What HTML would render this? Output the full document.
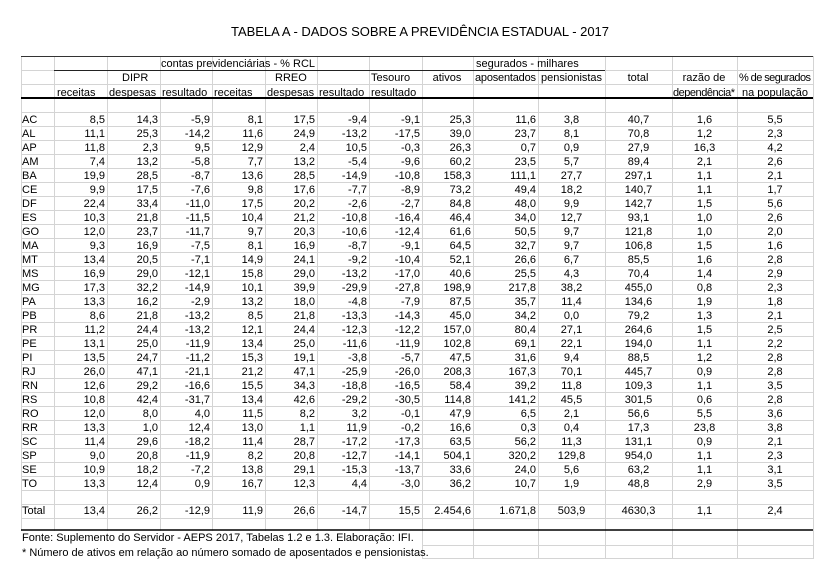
<!DOCTYPE html>
<html><head><meta charset="utf-8"><style>
html,body{margin:0;padding:0;background:#fff;}
svg{display:block;font-family:"Liberation Sans",Arial,sans-serif;}
</style></head><body>
<svg id="t" width="822" height="569" viewBox="0 0 822 569"></svg>
<script>
const states=["AC","AL","AP","AM","BA","CE","DF","ES","GO","MA","MT","MS","MG","PA","PB","PR","PE","PI","RJ","RN","RS","RO","RR","SC","SP","SE","TO"];
const dipr_rec=["8,5","11,1","11,8","7,4","19,9","9,9","22,4","10,3","12,0","9,3","13,4","16,9","17,3","13,3","8,6","11,2","13,1","13,5","26,0","12,6","10,8","12,0","13,3","11,4","9,0","10,9","13,3"];
const dipr_desp=["14,3","25,3","2,3","13,2","28,5","17,5","33,4","21,8","23,7","16,9","20,5","29,0","32,2","16,2","21,8","24,4","25,0","24,7","47,1","29,2","42,4","8,0","1,0","29,6","20,8","18,2","12,4"];
const dipr_res=["-5,9","-14,2","9,5","-5,8","-8,7","-7,6","-11,0","-11,5","-11,7","-7,5","-7,1","-12,1","-14,9","-2,9","-13,2","-13,2","-11,9","-11,2","-21,1","-16,6","-31,7","4,0","12,4","-18,2","-11,9","-7,2","0,9"];
const rreo_rec=["8,1","11,6","12,9","7,7","13,6","9,8","17,5","10,4","9,7","8,1","14,9","15,8","10,1","13,2","8,5","12,1","13,4","15,3","21,2","15,5","13,4","11,5","13,0","11,4","8,2","13,8","16,7"];
const rreo_desp=["17,5","24,9","2,4","13,2","28,5","17,6","20,2","21,2","20,3","16,9","24,1","29,0","39,9","18,0","21,8","24,4","25,0","19,1","47,1","34,3","42,6","8,2","1,1","28,7","20,8","29,1","12,3"];
const rreo_res=["-9,4","-13,2","10,5","-5,4","-14,9","-7,7","-2,6","-10,8","-10,6","-8,7","-9,2","-13,2","-29,9","-4,8","-13,3","-12,3","-11,6","-3,8","-25,9","-18,8","-29,2","3,2","11,9","-17,2","-12,7","-15,3","4,4"];
const tesouro=["-9,1","-17,5","-0,3","-9,6","-10,8","-8,9","-2,7","-16,4","-12,4","-9,1","-10,4","-17,0","-27,8","-7,9","-14,3","-12,2","-11,9","-5,7","-26,0","-16,5","-30,5","-0,1","-0,2","-17,3","-14,1","-13,7","-3,0"];
const ativos=["25,3","39,0","26,3","60,2","158,3","73,2","84,8","46,4","61,6","64,5","52,1","40,6","198,9","87,5","45,0","157,0","102,8","47,5","208,3","58,4","114,8","47,9","16,6","63,5","504,1","33,6","36,2"];
const aposentados=["11,6","23,7","0,7","23,5","111,1","49,4","48,0","34,0","50,5","32,7","26,6","25,5","217,8","35,7","34,2","80,4","69,1","31,6","167,3","39,2","141,2","6,5","0,3","56,2","320,2","24,0","10,7"];
const pensionistas=["3,8","8,1","0,9","5,7","27,7","18,2","9,9","12,7","9,7","9,7","6,7","4,3","38,2","11,4","0,0","27,1","22,1","9,4","70,1","11,8","45,5","2,1","0,4","11,3","129,8","5,6","1,9"];
const totals=["40,7","70,8","27,9","89,4","297,1","140,7","142,7","93,1","121,8","106,8","85,5","70,4","455,0","134,6","79,2","264,6","194,0","88,5","445,7","109,3","301,5","56,6","17,3","131,1","954,0","63,2","48,8"];
const razao=["1,6","1,2","16,3","2,1","1,1","1,1","1,5","1,0","1,0","1,5","1,6","1,4","0,8","1,9","1,3","1,5","1,1","1,2","0,9","1,1","0,6","5,5","23,8","0,9","1,1","1,1","2,9"];
const pctPop=["5,5","2,3","4,2","2,6","2,1","1,7","5,6","2,6","2,0","1,6","2,8","2,9","2,3","1,8","2,1","2,5","2,2","2,8","2,8","3,5","2,8","3,6","3,8","2,1","2,3","3,1","3,5"];
const totalRow=["Total","13,4","26,2","-12,9","11,9","26,6","-14,7","15,5","2.454,6","1.671,8","503,9","4630,3","1,1","2,4"];

const svg=document.getElementById('t');
const NS="http://www.w3.org/2000/svg";
const X=[21,54,107,160,212,265,317,369,422,473,538,605,672,737,813];
const align=["l","r","r","r","r","r","r","r","r","r","c","c","c","c"];
const FS=11;
function line(x1,y1,x2,y2,c,w){const l=document.createElementNS(NS,'line');l.setAttribute('x1',x1);l.setAttribute('y1',y1);l.setAttribute('x2',x2);l.setAttribute('y2',y2);l.setAttribute('stroke',c);l.setAttribute('stroke-width',w||1);


svg.appendChild(l);return l;}
function txt(s,x,y,anchor,size,name){const t=document.createElementNS(NS,'text');t.textContent=s;t.setAttribute('x',x);t.setAttribute('y',y);t.setAttribute('text-anchor',anchor||'start');t.setAttribute('font-size',size||FS);t.setAttribute('fill','#000');


svg.appendChild(t);return t;}
const G='#d4d4d4';
for(let y=70;y<=531;y+=14){if(y!==98)line(21,y+0.5,813,y+0.5,G);}
for(let i=0;i<X.length;i++){line(X[i]+0.5,56,X[i]+0.5,531,G);}
for(let i=8;i<X.length;i++){line(X[i]+0.5,531,X[i]+0.5,559,G);}
line(422,545.5,813,545.5,G);line(422,558.5,813,558.5,G);
line(21,56.5,813,56.5,'#333');
line(54,70.5,605,70.5,'#222');
line(21,98,813,98,'#000',2);
line(21,530,813,530,'#000',1.5);
const ti=txt("TABELA A - DADOS SOBRE A PREVIDÊNCIA ESTADUAL - 2017",420,36,'middle',13,'table-title');
ti.setAttribute('textLength',378);
txt("contas previdenciárias - % RCL",238,67,'middle',FS,'header-contas');
txt("segurados - milhares",476,67,'start',FS,'header-segurados');
txt("DIPR",122,81,'start',FS,'header-dipr');
txt("RREO",275,81,'start',FS,'header-rreo');
txt("Tesouro",371,81,'start',FS,'header-tesouro');
txt("ativos",447,81,'middle',FS,'header-ativos');
const ap=txt("aposentados",475,81,'start',FS,'header-aposentados');ap.setAttribute('textLength',61);
const pe=txt("pensionistas",541,81,'start',FS,'header-pensionistas');pe.setAttribute('textLength',61);
txt("total",638,81,'middle',FS,'header-total');
txt("razão de",704,81,'middle',FS,'header-razao');
const ps=txt("% de segurados",739,81,'start',FS,'header-pct');ps.setAttribute('textLength',72);
[["receitas",57],["despesas",109],["resultado",162],["receitas",214],["despesas",267],["resultado",319],["resultado",371]].forEach(h=>txt(h[0],h[1],96,'start',FS,'header-'+h[0]));
const dp=txt("dependência*",673,96,'start',FS,'header-dependencia');dp.setAttribute('textLength',62);
txt("na população",775,96,'middle',FS,'header-populacao');
const cols=[states,dipr_rec,dipr_desp,dipr_res,rreo_rec,rreo_desp,rreo_res,tesouro,ativos,aposentados,pensionistas,totals,razao,pctPop];
function cellX(c){if(align[c]==='l')return [X[c]+1,'start'];if(align[c]==='r')return [X[c+1]-2,'end'];return [(X[c]+X[c+1])/2,'middle'];}
for(let r=0;r<states.length;r++){const y=112+r*14+11;
for(let c=0;c<cols.length;c++){const [x,a]=cellX(c);txt(cols[c][r],x,y,a,FS,'cell-'+states[r].toLowerCase());}}
for(let c=0;c<totalRow.length;c++){const [x,a]=cellX(c);txt(totalRow[c],x,514,a,FS,'total-cell');}
txt("Fonte: Suplemento do Servidor - AEPS 2017, Tabelas 1.2 e 1.3. Elaboração: IFI.",22,541,'start',FS,'source-note');
txt("* Número de ativos em relação ao número somado de aposentados e pensionistas.",22,556,'start',FS,'footnote');
</script>
</body></html>
